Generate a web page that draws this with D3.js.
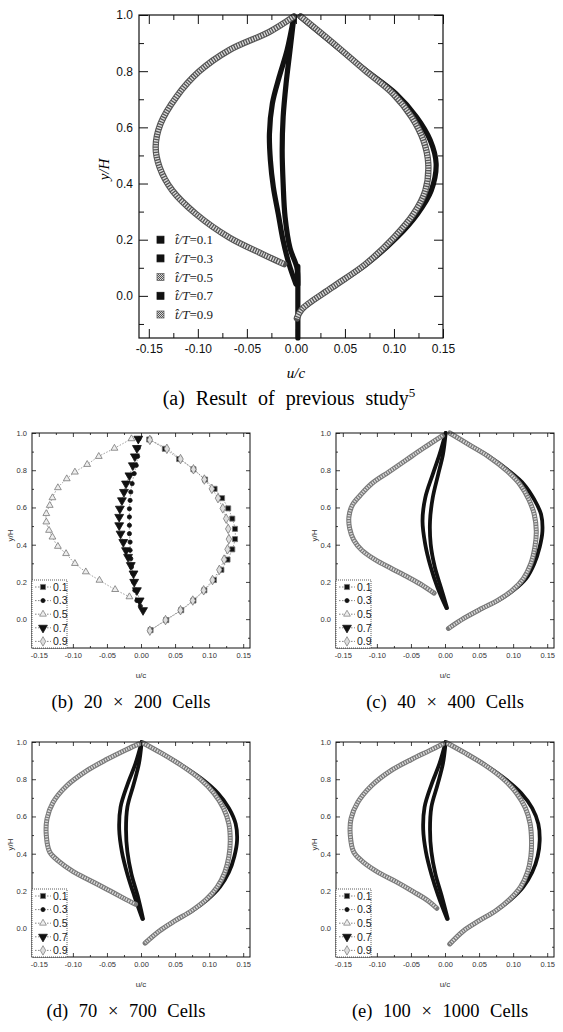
<!DOCTYPE html>
<html>
<head>
<meta charset="utf-8">
<script src="https://cdn.jsdelivr.net/npm/d3@7"></script>
<style>
  body { margin: 0; background: #fff; }
  svg { display: block; }
</style>
</head>
<body>
<div id="chart"></div>
<script>
const width = 563;
const height = 1032;

const phases = ["0.1", "0.3", "0.5", "0.7", "0.9"];
const xMajor = [-0.15, -0.10, -0.05, 0.00, 0.05, 0.10, 0.15];
const xMinor = [-0.125, -0.075, -0.025, 0.025, 0.075, 0.125];
const yMajor = [0.0, 0.2, 0.4, 0.6, 0.8, 1.0];
const yMinor = [-0.1, 0.1, 0.3, 0.5, 0.7, 0.9];

// (a) previous study, [u/c, y/H]
const prev01 = [[0.004,0.995],[0.037,0.9],[0.071,0.804],[0.102,0.72],[0.123,0.637],[0.137,0.554],[0.143,0.47],[0.138,0.375],[0.124,0.292],[0.103,0.208],[0.072,0.113],[0.037,0.03],[0.006,-0.048],[0.001,-0.077]];
const prev03 = [[-0.002,0.995],[-0.006,0.875],[-0.01,0.756],[-0.013,0.637],[-0.014,0.518],[-0.013,0.399],[-0.011,0.28],[-0.006,0.17],[0.001,0.1],[0.002,0.04]];
const prev05 = [[-0.002,0.995],[-0.027,0.94],[-0.068,0.875],[-0.099,0.798],[-0.122,0.708],[-0.138,0.613],[-0.143,0.53],[-0.139,0.458],[-0.126,0.375],[-0.102,0.292],[-0.068,0.208],[-0.034,0.149],[-0.012,0.113]];
const prev07 = [[-0.002,0.995],[-0.009,0.875],[-0.017,0.78],[-0.024,0.685],[-0.027,0.577],[-0.026,0.482],[-0.023,0.387],[-0.018,0.292],[-0.013,0.196],[-0.007,0.113],[0.0,0.042]];
const prev09 = [[0.005,0.995],[0.038,0.9],[0.07,0.804],[0.099,0.72],[0.118,0.637],[0.13,0.554],[0.135,0.47],[0.132,0.375],[0.12,0.292],[0.1,0.208],[0.071,0.113],[0.037,0.03],[0.006,-0.048],[0.001,-0.08]];
const prevWall = [[0.002,0.105],[0.002,-0.15]];

// (b) 20 x 200 cells
const b01 = [[0.012,0.965],[0.035,0.915],[0.056,0.86],[0.077,0.805],[0.094,0.75],[0.108,0.70],[0.119,0.65],[0.128,0.595],[0.134,0.54],[0.138,0.485],[0.138,0.43],[0.134,0.375],[0.127,0.32],[0.118,0.265],[0.107,0.21],[0.093,0.155],[0.077,0.10],[0.059,0.048],[0.037,-0.005],[0.014,-0.059]];
const b03 = [[-0.003,0.969],[-0.004,0.919],[-0.005,0.874],[-0.007,0.826],[-0.01,0.782],[-0.013,0.728],[-0.015,0.683],[-0.016,0.638],[-0.017,0.593],[-0.017,0.549],[-0.017,0.504],[-0.017,0.459],[-0.016,0.414],[-0.016,0.37],[-0.015,0.325],[-0.014,0.28],[-0.012,0.245],[-0.011,0.2],[-0.009,0.155],[-0.006,0.1],[-0.001,0.07]];
const b05 = [[-0.014,0.969],[-0.039,0.918],[-0.062,0.874],[-0.079,0.831],[-0.097,0.79],[-0.109,0.754],[-0.122,0.706],[-0.13,0.652],[-0.134,0.611],[-0.139,0.567],[-0.139,0.522],[-0.135,0.477],[-0.13,0.441],[-0.122,0.391],[-0.11,0.352],[-0.097,0.299],[-0.081,0.254],[-0.061,0.209],[-0.038,0.159],[-0.017,0.12]];
const b07 = [[-0.004,0.969],[-0.006,0.919],[-0.009,0.874],[-0.012,0.826],[-0.017,0.772],[-0.022,0.728],[-0.025,0.683],[-0.028,0.638],[-0.031,0.593],[-0.032,0.549],[-0.032,0.504],[-0.03,0.459],[-0.026,0.414],[-0.022,0.37],[-0.019,0.334],[-0.015,0.29],[-0.011,0.245],[-0.01,0.2],[-0.006,0.155],[-0.002,0.1],[0.003,0.048]];
const b09 = [[0.013,0.963],[0.038,0.915],[0.058,0.86],[0.077,0.805],[0.093,0.75],[0.104,0.70],[0.113,0.65],[0.12,0.595],[0.125,0.54],[0.128,0.485],[0.129,0.43],[0.127,0.375],[0.122,0.32],[0.115,0.265],[0.105,0.21],[0.092,0.155],[0.076,0.10],[0.058,0.048],[0.036,-0.005],[0.013,-0.062]];

// (c) 40 x 400 cells
const c01 = [[0.007,1.0],[0.034,0.94],[0.064,0.876],[0.094,0.796],[0.116,0.724],[0.131,0.643],[0.141,0.563],[0.143,0.473],[0.139,0.388],[0.131,0.298],[0.119,0.218],[0.101,0.156],[0.079,0.102],[0.054,0.057],[0.028,0.005],[0.005,-0.05]];
const c03 = [[0.001,1.0],[-0.003,0.885],[-0.01,0.778],[-0.018,0.652],[-0.022,0.527],[-0.021,0.402],[-0.015,0.28],[-0.006,0.17],[0.003,0.06]];
const c05 = [[-0.004,0.985],[-0.032,0.918],[-0.057,0.855],[-0.082,0.792],[-0.107,0.73],[-0.124,0.667],[-0.136,0.613],[-0.141,0.55],[-0.14,0.488],[-0.134,0.425],[-0.122,0.37],[-0.102,0.318],[-0.078,0.271],[-0.054,0.225],[-0.033,0.182],[-0.016,0.14]];
const c07 = [[0.001,1.0],[-0.008,0.885],[-0.018,0.778],[-0.029,0.652],[-0.033,0.527],[-0.029,0.402],[-0.021,0.28],[-0.011,0.17],[0.002,0.06]];
const c09 = [[0.007,1.0],[0.034,0.94],[0.063,0.876],[0.091,0.796],[0.11,0.724],[0.123,0.643],[0.131,0.563],[0.134,0.473],[0.132,0.388],[0.126,0.298],[0.115,0.218],[0.099,0.156],[0.078,0.102],[0.054,0.057],[0.028,0.005],[0.005,-0.05]];

// (d) 70 x 700 cells
const d01 = [[0.003,0.995],[0.03,0.94],[0.06,0.875],[0.09,0.8],[0.113,0.725],[0.129,0.645],[0.139,0.56],[0.141,0.47],[0.137,0.385],[0.129,0.3],[0.116,0.222],[0.098,0.155],[0.076,0.095],[0.05,0.04],[0.027,-0.015],[0.006,-0.08]];
const d03 = [[0.001,1.0],[-0.003,0.885],[-0.011,0.77],[-0.02,0.65],[-0.022,0.53],[-0.02,0.41],[-0.014,0.29],[-0.005,0.175],[0.003,0.05]];
const d05 = [[-0.003,0.99],[-0.021,0.96],[-0.05,0.907],[-0.08,0.845],[-0.109,0.765],[-0.129,0.676],[-0.138,0.587],[-0.139,0.498],[-0.134,0.409],[-0.121,0.36],[-0.1,0.305],[-0.074,0.255],[-0.048,0.205],[-0.025,0.16],[-0.008,0.128]];
const d07 = [[0.001,1.0],[-0.008,0.885],[-0.02,0.77],[-0.03,0.65],[-0.032,0.53],[-0.028,0.41],[-0.02,0.29],[-0.01,0.175],[0.002,0.05]];
const d09 = [[0.003,0.995],[0.03,0.94],[0.059,0.875],[0.087,0.8],[0.107,0.725],[0.121,0.645],[0.129,0.56],[0.131,0.47],[0.129,0.385],[0.123,0.3],[0.112,0.222],[0.096,0.155],[0.075,0.095],[0.05,0.04],[0.027,-0.015],[0.006,-0.08]];

// (e) 100 x 1000 cells
const e01 = [[0.003,0.995],[0.03,0.94],[0.06,0.875],[0.089,0.8],[0.112,0.725],[0.128,0.645],[0.137,0.56],[0.139,0.47],[0.136,0.385],[0.128,0.3],[0.115,0.222],[0.097,0.155],[0.075,0.095],[0.05,0.04],[0.027,-0.015],[0.007,-0.085]];
const e03 = [[0.001,1.0],[-0.003,0.885],[-0.011,0.77],[-0.02,0.65],[-0.022,0.53],[-0.02,0.41],[-0.014,0.29],[-0.005,0.175],[0.004,0.05]];
const e05 = [[-0.003,0.99],[-0.022,0.955],[-0.05,0.905],[-0.08,0.845],[-0.108,0.765],[-0.128,0.676],[-0.138,0.587],[-0.139,0.498],[-0.134,0.409],[-0.12,0.355],[-0.098,0.3],[-0.072,0.25],[-0.046,0.195],[-0.024,0.145],[-0.012,0.107]];
const e07 = [[0.001,1.0],[-0.008,0.885],[-0.02,0.77],[-0.03,0.65],[-0.032,0.53],[-0.028,0.41],[-0.02,0.29],[-0.01,0.175],[0.003,0.05]];
const e09 = [[0.003,0.995],[0.03,0.94],[0.059,0.875],[0.086,0.8],[0.105,0.725],[0.118,0.645],[0.125,0.56],[0.127,0.47],[0.126,0.385],[0.121,0.3],[0.111,0.222],[0.095,0.155],[0.075,0.095],[0.05,0.04],[0.027,-0.015],[0.007,-0.085]];

const svg = d3.select("#chart")
  .append("svg")
  .attr("width", width)
  .attr("height", height);

const defs = svg.append("defs");
const hatch = defs.append("pattern")
  .attr("id", "hatch")
  .attr("width", 2)
  .attr("height", 2)
  .attr("patternUnits", "userSpaceOnUse");
hatch.append("rect").attr("width", 2).attr("height", 2).attr("fill", "#d8d8d8");
hatch.append("rect").attr("width", 1).attr("height", 1).attr("fill", "#555");
hatch.append("rect").attr("x", 1).attr("y", 1).attr("width", 1).attr("height", 1).attr("fill", "#555");

const sans = "'Liberation Sans', Arial, sans-serif";
const serif = "'Liberation Serif', 'Times New Roman', serif";

function fmt2(d) { return d.toFixed(2); }
function fmt1(d) { return d.toFixed(1); }

// frame with inward ticks on all four sides, labels on left and bottom
function drawAxes(g, x, y, s) {
  const [xl, xr] = x.range();
  const [yb, yt] = y.range();

  const sides = [
    { ax: d3.axisBottom, scale: x, tr: `translate(0,${yb})`, maj: xMajor, min: xMinor, fmt: fmt2 },
    { ax: d3.axisTop, scale: x, tr: `translate(0,${yt})`, maj: xMajor, min: xMinor, fmt: null },
    { ax: d3.axisLeft, scale: y, tr: `translate(${xl},0)`, maj: yMajor, min: yMinor, fmt: fmt1 },
    { ax: d3.axisRight, scale: y, tr: `translate(${xr},0)`, maj: yMajor, min: yMinor, fmt: null }
  ];

  sides.forEach((sd) => {
    const major = g.append("g")
      .attr("transform", sd.tr)
      .call(sd.ax(sd.scale)
        .tickValues(sd.maj)
        .tickSizeInner(-s.major)
        .tickSizeOuter(0)
        .tickPadding(s.pad)
        .tickFormat(sd.fmt ? sd.fmt : () => ""));
    major.select(".domain").remove();
    major.selectAll("line").attr("stroke", "#111").attr("stroke-width", s.tickW);
    major.selectAll("text")
      .attr("font-family", sans)
      .attr("font-size", s.font)
      .attr("fill", s.textColor);

    const minor = g.append("g")
      .attr("transform", sd.tr)
      .call(sd.ax(sd.scale)
        .tickValues(sd.min)
        .tickSizeInner(-s.minor)
        .tickSizeOuter(0)
        .tickFormat(() => ""));
    minor.select(".domain").remove();
    minor.selectAll("line").attr("stroke", "#111").attr("stroke-width", s.tickW);
  });

  g.append("rect")
    .attr("x", xl)
    .attr("y", yt)
    .attr("width", xr - xl)
    .attr("height", yb - yt)
    .attr("fill", "none")
    .attr("stroke", "#111")
    .attr("stroke-width", s.frameW);
}

function makeLine(x, y) {
  return d3.line()
    .x((d) => x(d[0]))
    .y((d) => y(d[1]))
    .curve(d3.curveCatmullRom.alpha(0.5));
}

// dense-marker curve, drawn as textured stroke
function drawDense(g, line, data, gray, w, edge) {
  if (gray) {
    g.append("path").attr("d", line(data)).attr("fill", "none")
      .attr("stroke", edge).attr("stroke-width", w + 1.2).attr("stroke-linecap", "round");
    g.append("path").attr("d", line(data)).attr("fill", "none")
      .attr("stroke", "#dcdcdc").attr("stroke-width", w - 1)
      .attr("stroke-dasharray", "1.3,1.3");
  } else {
    g.append("path").attr("d", line(data)).attr("fill", "none")
      .attr("stroke", "#111").attr("stroke-width", w).attr("stroke-linecap", "round");
  }
}

// ---------- (a) ----------
function drawPrevious() {
  const x = d3.scaleLinear().domain([-0.16, 0.15]).range([139, 443]);
  const y = d3.scaleLinear().domain([-0.15, 1.0]).range([338, 15]);
  const g = svg.append("g");
  const line = makeLine(x, y);

  [[prev01, false], [prev03, false], [prev07, false], [prevWall, false], [prev05, true], [prev09, true]]
    .forEach(([d, gray]) => drawDense(g, line, d, gray, 5.2, "#555"));

  drawAxes(g, x, y, { major: 9, minor: 5, pad: 6, font: 12, tickW: 1, frameW: 1.2, textColor: "#111" });

  // legend
  phases.forEach((p, i) => {
    const ly = y(0.2) + i * 18.7;
    const gray = p === "0.5" || p === "0.9";
    g.append("rect")
      .attr("x", 157).attr("y", ly - 3.5)
      .attr("width", 7).attr("height", 7)
      .attr("fill", gray ? "url(#hatch)" : "#111")
      .attr("stroke", gray ? "#666" : "#111")
      .attr("stroke-width", 0.8);
    const t = g.append("text")
      .attr("x", 175).attr("y", ly + 4.5)
      .attr("font-family", serif).attr("font-size", 13).attr("fill", "#222");
    t.append("tspan").attr("font-style", "italic").text("t\u0302/T");
    t.append("tspan").text("=" + p);
  });

  g.append("text")
    .attr("x", x(0)).attr("y", 378)
    .attr("text-anchor", "middle")
    .attr("font-family", serif).attr("font-style", "italic").attr("font-size", 15)
    .text("u/c");

  g.append("text")
    .attr("transform", `translate(109,${y(0.45)}) rotate(-90)`)
    .attr("text-anchor", "middle")
    .attr("font-family", serif).attr("font-style", "italic").attr("font-size", 15)
    .text("y/H");

  const cap = g.append("text")
    .attr("x", 289).attr("y", 405)
    .attr("text-anchor", "middle")
    .attr("font-family", serif).attr("font-size", 20).attr("word-spacing", 6)
    .text("(a) Result of previous study");
  cap.append("tspan").attr("font-size", 13).attr("dy", -8).text("5");
}

// ---------- (b)-(e) ----------
const symbols = {
  "0.1": { type: d3.symbolSquare, size: 26, fill: "#111", stroke: "#777", rot: 0 },
  "0.3": { type: d3.symbolCircle, size: 14, fill: "#111", stroke: "#111", rot: 0 },
  "0.5": { type: d3.symbolTriangle, size: 20, fill: "#eee", stroke: "#777", rot: 0 },
  "0.7": { type: d3.symbolTriangle, size: 34, fill: "#111", stroke: "#111", rot: 180 },
  "0.9": { type: d3.symbolDiamond, size: 26, fill: "#ddd", stroke: "#777", rot: 0 }
};

function drawLegend(g, x, y) {
  const x0 = x.range()[0];
  const yb = y.range()[0];
  g.append("rect")
    .attr("x", x0).attr("y", yb - 68)
    .attr("width", 35).attr("height", 68)
    .attr("fill", "#fff")
    .attr("stroke", "#333").attr("stroke-width", 0.8)
    .attr("stroke-dasharray", "1,1");
  phases.forEach((p, i) => {
    const ly = yb - 61 + i * 13.6;
    const sy = symbols[p];
    g.append("line")
      .attr("x1", x0 + 3).attr("x2", x0 + 19)
      .attr("y1", ly).attr("y2", ly)
      .attr("stroke", "#666").attr("stroke-width", 0.8)
      .attr("stroke-dasharray", "1.5,1.5");
    g.append("path")
      .attr("d", d3.symbol().type(sy.type).size(sy.size)())
      .attr("transform", `translate(${x0 + 11},${ly}) rotate(${sy.rot})`)
      .attr("fill", sy.fill).attr("stroke", sy.stroke).attr("stroke-width", 0.7);
    g.append("text")
      .attr("x", x0 + 21).attr("y", ly + 3.8)
      .attr("font-family", sans).attr("font-size", 10.5).attr("fill", "#222")
      .text(p);
  });
}

function drawCells(frame, series, caption, dense, capX) {
  const x = d3.scaleLinear().domain([-0.16, 0.16]).range([frame.left, frame.left + 218]);
  const y = d3.scaleLinear().domain([-0.155, 1.0]).range([frame.top + 215, frame.top]);
  const g = svg.append("g");
  const line = makeLine(x, y);

  const order = ["0.1", "0.3", "0.7", "0.5", "0.9"];
  if (dense) {
    order.forEach((p) => drawDense(g, line, series[p], p === "0.5" || p === "0.9", 3.8, "#7a7a7a"));
  } else {
    order.forEach((p) => {
      const sy = symbols[p];
      g.append("path")
        .attr("d", line(series[p]))
        .attr("fill", "none")
        .attr("stroke", "#777").attr("stroke-width", 0.7)
        .attr("stroke-dasharray", "1.5,1.5");
      g.selectAll(null)
        .data(series[p])
        .enter()
        .append("path")
        .attr("d", d3.symbol().type(sy.type).size(sy.size)())
        .attr("transform", (d) => `translate(${x(d[0])},${y(d[1])}) rotate(${sy.rot})`)
        .attr("fill", sy.fill).attr("stroke", sy.stroke).attr("stroke-width", 0.8);
    });
  }

  drawAxes(g, x, y, { major: 4, minor: 2, pad: 5, font: 7.5, tickW: 0.8, frameW: 1, textColor: "#333" });
  drawLegend(g, x, y);

  g.append("text")
    .attr("x", x(0)).attr("y", y.range()[0] + 30)
    .attr("text-anchor", "middle")
    .attr("font-family", sans).attr("font-size", 8).attr("fill", "#333")
    .text("u/c");

  g.append("text")
    .attr("transform", `translate(${frame.left - 19},${y(0.45)}) rotate(-90)`)
    .attr("text-anchor", "middle")
    .attr("font-family", sans).attr("font-size", 8).attr("fill", "#333")
    .text("y/H");

  svg.append("text")
    .attr("x", capX).attr("y", y.range()[0] + 60)
    .attr("text-anchor", "middle")
    .attr("font-family", serif).attr("font-size", 18.5).attr("word-spacing", 6)
    .text(caption);
}

drawPrevious();
drawCells({ left: 32, top: 433 }, { "0.1": b01, "0.3": b03, "0.5": b05, "0.7": b07, "0.9": b09 }, "(b) 20 \u00d7 200 Cells", false, 131);
drawCells({ left: 336, top: 433 }, { "0.1": c01, "0.3": c03, "0.5": c05, "0.7": c07, "0.9": c09 }, "(c) 40 \u00d7 400 Cells", true, 445);
drawCells({ left: 32, top: 742 }, { "0.1": d01, "0.3": d03, "0.5": d05, "0.7": d07, "0.9": d09 }, "(d) 70 \u00d7 700 Cells", true, 126);
drawCells({ left: 336, top: 742 }, { "0.1": e01, "0.3": e03, "0.5": e05, "0.7": e07, "0.9": e09 }, "(e) 100 \u00d7 1000 Cells", true, 440);
</script>
</body>
</html>
